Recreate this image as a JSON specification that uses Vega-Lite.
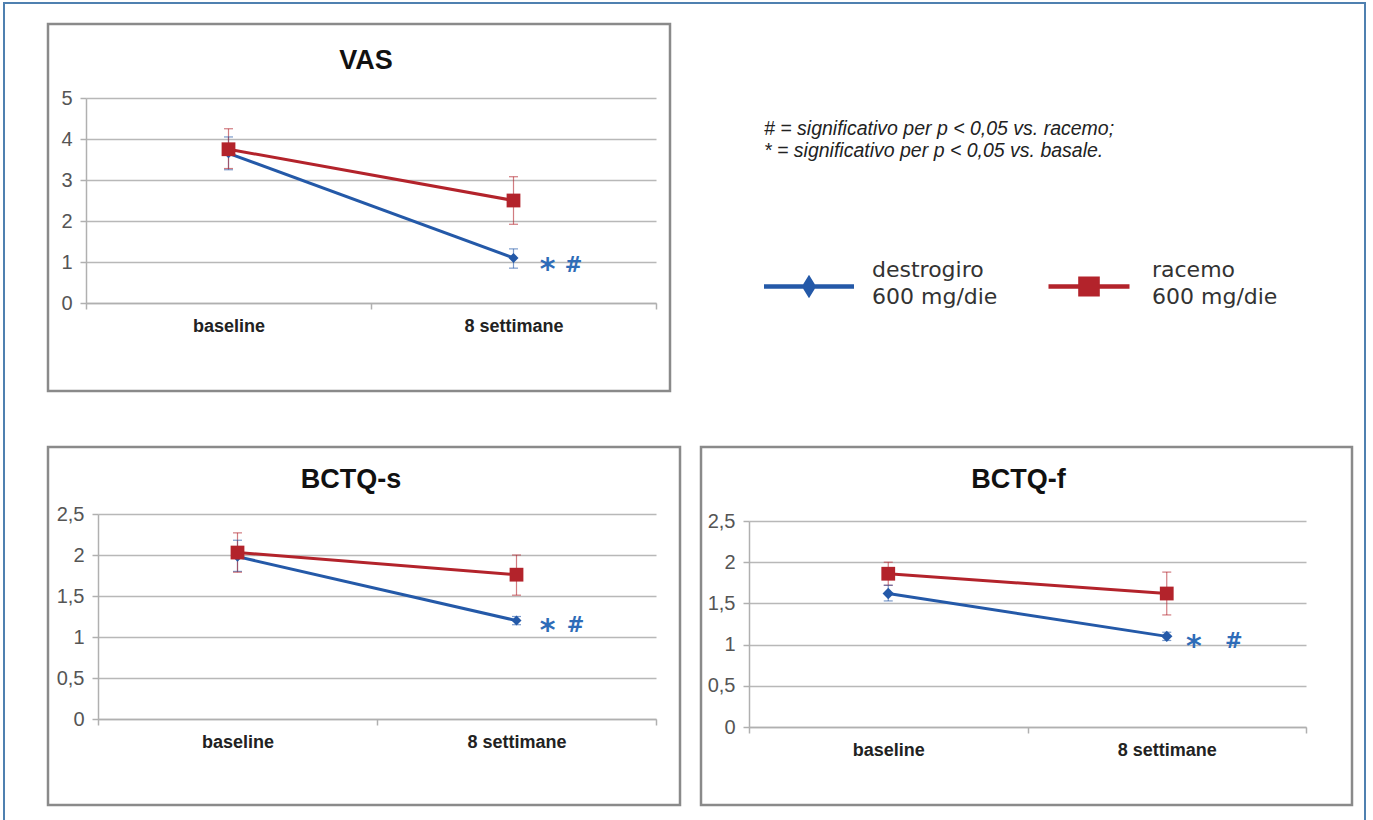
{
  "$schema": "https://vega.github.io/schema/vega-lite/v6.json",
  "padding": {"left": 4, "top": 3, "right": 0, "bottom": 0},
  "background": "white",
  "data": {"values": [
    {"panel": "VAS", "time": "baseline", "series": "destrogiro", "value": 3.65, "lo": 3.25, "hi": 4.05},
    {"panel": "VAS", "time": "baseline", "series": "racemo", "value": 3.75, "lo": 3.28, "hi": 4.25},
    {"panel": "VAS", "time": "8 settimane", "series": "destrogiro", "value": 1.1, "lo": 0.85, "hi": 1.32, "star": "*", "hash": "#"},
    {"panel": "VAS", "time": "8 settimane", "series": "racemo", "value": 2.5, "lo": 1.92, "hi": 3.08},
    {"panel": "BCTQ-s", "time": "baseline", "series": "destrogiro", "value": 1.98, "lo": 1.8, "hi": 2.18},
    {"panel": "BCTQ-s", "time": "baseline", "series": "racemo", "value": 2.03, "lo": 1.79, "hi": 2.27},
    {"panel": "BCTQ-s", "time": "8 settimane", "series": "destrogiro", "value": 1.2, "lo": 1.15, "hi": 1.25, "star": "*", "hash": "#"},
    {"panel": "BCTQ-s", "time": "8 settimane", "series": "racemo", "value": 1.76, "lo": 1.51, "hi": 2.0},
    {"panel": "BCTQ-f", "time": "baseline", "series": "destrogiro", "value": 1.62, "lo": 1.53, "hi": 1.72},
    {"panel": "BCTQ-f", "time": "baseline", "series": "racemo", "value": 1.86, "lo": 1.72, "hi": 2.0},
    {"panel": "BCTQ-f", "time": "8 settimane", "series": "destrogiro", "value": 1.1, "lo": 1.05, "hi": 1.15, "star": "*", "hash": "#"},
    {"panel": "BCTQ-f", "time": "8 settimane", "series": "racemo", "value": 1.62, "lo": 1.36, "hi": 1.88}
  ]},
  "vconcat": [
    {
      "width": 622, "height": 367,
      "title": {"text": "VAS", "offset": -51, "dx": 7},
      "transform": [{"filter": "datum.panel === 'VAS'"}],
      "encoding": {
        "x": {"field": "time", "type": "nominal", "sort": ["baseline", "8 settimane"], "scale": {"type": "band", "range": [38, 608], "paddingInner": 0, "paddingOuter": 0}, "axis": {"offset": -88, "tickBand": "extent", "title": null}},
        "color": {"field": "series", "type": "nominal", "scale": {"domain": ["destrogiro", "racemo"], "range": ["#2459a8", "#b3232b"]},
          "legend": {"title": ["# = significativo per p < 0,05 vs. racemo;", "* = significativo per p < 0,05 vs. basale."], "orient": "none", "legendX": 716, "legendY": 96, "direction": "horizontal", "titleFont": "Liberation Sans", "titleFontSize": 19.5, "titleFontStyle": "italic", "titleFontWeight": "normal", "titleColor": "#222", "titleLineHeight": 22, "titlePadding": 80, "titleLimit": 700, "labelExpr": "[datum.label, '600 mg/die']", "labelFont": "DejaVu Sans", "labelFontSize": 22, "labelColor": "#333", "labelLimit": 300, "labelOffset": 18, "symbolSize": 8100, "symbolStrokeWidth": 0, "columnPadding": 46,
            "encode": {"labels": {"update": {"lineHeight": {"value": 27}, "dy": {"value": -17}}}, "symbols": {"update": {"shape": {"signal": "datum.value === 'racemo' ? 'M-0.9,-0.05H0.9V0.05H-0.9Z M-0.24,-0.22H0.24V0.22H-0.24Z' : 'M-1,-0.05H1V0.05H-1Z M0,-0.26L0.16,0L0,0.26L-0.16,0Z'"}, "fill": {"signal": "datum.value === 'racemo' ? '#b3232b' : '#2459a8'"}, "stroke": {"value": "transparent"}, "opacity": {"value": 1}}}}}}
      },
      "layer": [
        {"mark": {"type": "rule", "strokeWidth": 1.2, "opacity": 0.6},
          "encoding": {"y": {"field": "lo", "type": "quantitative", "scale": {"domain": [0, 5], "range": [279, 74], "nice": false}, "axis": {"offset": -38, "values": [0, 1, 2, 3, 4, 5], "format": "~g", "labelExpr": "replace(datum.label, '.', ',')", "title": null}}, "y2": {"field": "hi"}}},
        {"mark": {"type": "tick", "orient": "horizontal", "size": 9, "thickness": 1.2, "opacity": 0.6},
          "encoding": {"y": {"field": "lo", "type": "quantitative"}}},
        {"mark": {"type": "tick", "orient": "horizontal", "size": 9, "thickness": 1.2, "opacity": 0.6},
          "encoding": {"y": {"field": "hi", "type": "quantitative"}}},
        {"mark": {"type": "line", "strokeWidth": 3},
          "encoding": {"y": {"field": "value", "type": "quantitative"}}},
        {"mark": {"type": "point", "filled": true, "opacity": 1},
          "encoding": {"y": {"field": "value", "type": "quantitative"}, "shape": {"condition": {"test": "datum.series === 'racemo'", "value": "square"}, "value": "diamond"}, "size": {"condition": {"test": "datum.series === 'racemo'", "value": 190}, "value": 100}}},
        {"transform": [{"filter": "isValid(datum.star)"}], "mark": {"type": "text", "align": "center", "baseline": "middle", "dx": 34, "dy": 12, "font": "DejaVu Sans", "fontSize": 30, "fontWeight": "bold"},
          "encoding": {"y": {"field": "value", "type": "quantitative"}, "text": {"field": "star"}, "color": {"value": "#2e6cb8"}}},
        {"transform": [{"filter": "isValid(datum.hash)"}], "mark": {"type": "text", "align": "center", "baseline": "middle", "dx": 60, "dy": 8, "font": "DejaVu Sans", "fontSize": 21, "fontWeight": "bold"},
          "encoding": {"y": {"field": "value", "type": "quantitative"}, "text": {"field": "hash"}, "color": {"value": "#2e6cb8"}}},
        {"transform": [{"filter": "false"}], "mark": {"type": "point", "opacity": 1, "filled": false},
          "encoding": {"y": {"field": "value", "type": "quantitative"}, "color": {"value": "transparent"},
            "fill": {"field": "value", "type": "quantitative", "scale": {"domain": [0, 1], "range": ["rgba(255,255,255,0)", "rgba(255,255,255,0)"]},
              "legend": {"title": null, "orient": "none", "legendX": -44, "legendY": -21, "direction": "vertical", "gradientLength": 830, "gradientThickness": 1361, "gradientStrokeColor": "#4f80b0", "gradientStrokeWidth": 2, "labelOpacity": 0, "labelFontSize": 1, "labelExpr": "''", "padding": 0,
                "encode": {"gradient": {"update": {"fill": {"value": "transparent"}, "opacity": {"value": 1}, "fillOpacity": {"value": 0}}}}}}}}
      ]
    },
    {
      "hconcat": [
        {
          "width": 632, "height": 358,
          "title": {"text": "BCTQ-s", "offset": -47, "dx": -13},
          "transform": [{"filter": "datum.panel === 'BCTQ-s'"}],
          "encoding": {
            "x": {"field": "time", "type": "nominal", "sort": ["baseline", "8 settimane"], "scale": {"type": "band", "range": [50, 608], "paddingInner": 0, "paddingOuter": 0}, "axis": {"offset": -86, "tickBand": "extent", "title": null}},
            "color": {"field": "series", "type": "nominal", "scale": {"domain": ["destrogiro", "racemo"], "range": ["#2459a8", "#b3232b"]},
              "legend": {"title": ["# = significativo per p < 0,05 vs. racemo;", "* = significativo per p < 0,05 vs. basale."], "orient": "none", "legendX": 716, "legendY": 96, "direction": "horizontal", "titleFont": "Liberation Sans", "titleFontSize": 19.5, "titleFontStyle": "italic", "titleFontWeight": "normal", "titleColor": "#222", "titleLineHeight": 22, "titlePadding": 80, "titleLimit": 700, "labelExpr": "[datum.label, '600 mg/die']", "labelFont": "DejaVu Sans", "labelFontSize": 22, "labelColor": "#333", "labelLimit": 300, "labelOffset": 18, "symbolSize": 8100, "symbolStrokeWidth": 0, "columnPadding": 46,
                "encode": {"labels": {"update": {"lineHeight": {"value": 27}, "dy": {"value": -17}}}, "symbols": {"update": {"shape": {"signal": "datum.value === 'racemo' ? 'M-0.9,-0.05H0.9V0.05H-0.9Z M-0.24,-0.22H0.24V0.22H-0.24Z' : 'M-1,-0.05H1V0.05H-1Z M0,-0.26L0.16,0L0,0.26L-0.16,0Z'"}, "fill": {"signal": "datum.value === 'racemo' ? '#b3232b' : '#2459a8'"}, "stroke": {"value": "transparent"}, "opacity": {"value": 1}}}}}}
          },
          "layer": [
            {"mark": {"type": "rule", "strokeWidth": 1.2, "opacity": 0.6},
              "encoding": {"y": {"field": "lo", "type": "quantitative", "scale": {"domain": [0, 2.5], "range": [272, 67], "nice": false}, "axis": {"offset": -50, "values": [0, 0.5, 1, 1.5, 2, 2.5], "format": "~g", "labelExpr": "replace(datum.label, '.', ',')", "title": null}}, "y2": {"field": "hi"}}},
            {"mark": {"type": "tick", "orient": "horizontal", "size": 9, "thickness": 1.2, "opacity": 0.6},
              "encoding": {"y": {"field": "lo", "type": "quantitative"}}},
            {"mark": {"type": "tick", "orient": "horizontal", "size": 9, "thickness": 1.2, "opacity": 0.6},
              "encoding": {"y": {"field": "hi", "type": "quantitative"}}},
            {"mark": {"type": "line", "strokeWidth": 3},
              "encoding": {"y": {"field": "value", "type": "quantitative"}}},
            {"mark": {"type": "point", "filled": true, "opacity": 1},
              "encoding": {"y": {"field": "value", "type": "quantitative"}, "shape": {"condition": {"test": "datum.series === 'racemo'", "value": "square"}, "value": "diamond"}, "size": {"condition": {"test": "datum.series === 'racemo'", "value": 190}, "value": 100}}},
            {"transform": [{"filter": "isValid(datum.star)"}], "mark": {"type": "text", "align": "center", "baseline": "middle", "dx": 31, "dy": 10, "font": "DejaVu Sans", "fontSize": 30, "fontWeight": "bold"},
              "encoding": {"y": {"field": "value", "type": "quantitative"}, "text": {"field": "star"}, "color": {"value": "#2e6cb8"}}},
            {"transform": [{"filter": "isValid(datum.hash)"}], "mark": {"type": "text", "align": "center", "baseline": "middle", "dx": 59, "dy": 5, "font": "DejaVu Sans", "fontSize": 21, "fontWeight": "bold"},
              "encoding": {"y": {"field": "value", "type": "quantitative"}, "text": {"field": "hash"}, "color": {"value": "#2e6cb8"}}}
          ]
        },
        {
          "width": 651, "height": 358,
          "title": {"text": "BCTQ-f", "offset": -47, "dx": -8},
          "transform": [{"filter": "datum.panel === 'BCTQ-f'"}],
          "encoding": {
            "x": {"field": "time", "type": "nominal", "sort": ["baseline", "8 settimane"], "scale": {"type": "band", "range": [48, 605], "paddingInner": 0, "paddingOuter": 0}, "axis": {"offset": -78, "tickBand": "extent", "title": null}},
            "color": {"field": "series", "type": "nominal", "scale": {"domain": ["destrogiro", "racemo"], "range": ["#2459a8", "#b3232b"]},
              "legend": {"title": ["# = significativo per p < 0,05 vs. racemo;", "* = significativo per p < 0,05 vs. basale."], "orient": "none", "legendX": 716, "legendY": 96, "direction": "horizontal", "titleFont": "Liberation Sans", "titleFontSize": 19.5, "titleFontStyle": "italic", "titleFontWeight": "normal", "titleColor": "#222", "titleLineHeight": 22, "titlePadding": 80, "titleLimit": 700, "labelExpr": "[datum.label, '600 mg/die']", "labelFont": "DejaVu Sans", "labelFontSize": 22, "labelColor": "#333", "labelLimit": 300, "labelOffset": 18, "symbolSize": 8100, "symbolStrokeWidth": 0, "columnPadding": 46,
                "encode": {"labels": {"update": {"lineHeight": {"value": 27}, "dy": {"value": -17}}}, "symbols": {"update": {"shape": {"signal": "datum.value === 'racemo' ? 'M-0.9,-0.05H0.9V0.05H-0.9Z M-0.24,-0.22H0.24V0.22H-0.24Z' : 'M-1,-0.05H1V0.05H-1Z M0,-0.26L0.16,0L0,0.26L-0.16,0Z'"}, "fill": {"signal": "datum.value === 'racemo' ? '#b3232b' : '#2459a8'"}, "stroke": {"value": "transparent"}, "opacity": {"value": 1}}}}}}
          },
          "layer": [
            {"mark": {"type": "rule", "strokeWidth": 1.2, "opacity": 0.6},
              "encoding": {"y": {"field": "lo", "type": "quantitative", "scale": {"domain": [0, 2.5], "range": [280, 74], "nice": false}, "axis": {"offset": -48, "values": [0, 0.5, 1, 1.5, 2, 2.5], "format": "~g", "labelExpr": "replace(datum.label, '.', ',')", "title": null}}, "y2": {"field": "hi"}}},
            {"mark": {"type": "tick", "orient": "horizontal", "size": 9, "thickness": 1.2, "opacity": 0.6},
              "encoding": {"y": {"field": "lo", "type": "quantitative"}}},
            {"mark": {"type": "tick", "orient": "horizontal", "size": 9, "thickness": 1.2, "opacity": 0.6},
              "encoding": {"y": {"field": "hi", "type": "quantitative"}}},
            {"mark": {"type": "line", "strokeWidth": 3},
              "encoding": {"y": {"field": "value", "type": "quantitative"}}},
            {"mark": {"type": "point", "filled": true, "opacity": 1},
              "encoding": {"y": {"field": "value", "type": "quantitative"}, "shape": {"condition": {"test": "datum.series === 'racemo'", "value": "square"}, "value": "diamond"}, "size": {"condition": {"test": "datum.series === 'racemo'", "value": 190}, "value": 130}}},
            {"transform": [{"filter": "isValid(datum.star)"}], "mark": {"type": "text", "align": "center", "baseline": "middle", "dx": 27, "dy": 11, "font": "DejaVu Sans", "fontSize": 30, "fontWeight": "bold"},
              "encoding": {"y": {"field": "value", "type": "quantitative"}, "text": {"field": "star"}, "color": {"value": "#2e6cb8"}}},
            {"transform": [{"filter": "isValid(datum.hash)"}], "mark": {"type": "text", "align": "center", "baseline": "middle", "dx": 67, "dy": 6, "font": "DejaVu Sans", "fontSize": 21, "fontWeight": "bold"},
              "encoding": {"y": {"field": "value", "type": "quantitative"}, "text": {"field": "hash"}, "color": {"value": "#2e6cb8"}}}
          ]
        }
      ],
      "spacing": 17
    }
  ],
  "spacing": 52,
  "config": {
    "view": {"stroke": "#8a8a8a", "strokeWidth": 2.5},
    "title": {"font": "Liberation Sans", "fontSize": 27, "fontWeight": "bold", "color": "#111", "anchor": "middle"},
    "axis": {"gridColor": "#b8b8b8", "gridWidth": 1.6, "domainColor": "#b0b0b0", "domainWidth": 1.5, "tickColor": "#b0b0b0", "tickWidth": 1.5, "tickSize": 6},
    "axisY": {"labelFont": "Liberation Sans Narrow, Liberation Sans", "labelFontSize": 20, "labelColor": "#555", "labelPadding": 8, "grid": true},
    "axisX": {"labelFont": "Liberation Sans Narrow, Liberation Sans", "labelFontSize": 18, "labelFontWeight": "bold", "labelColor": "#222", "labelAngle": 0, "labelPadding": 8, "grid": false}
  }
}
